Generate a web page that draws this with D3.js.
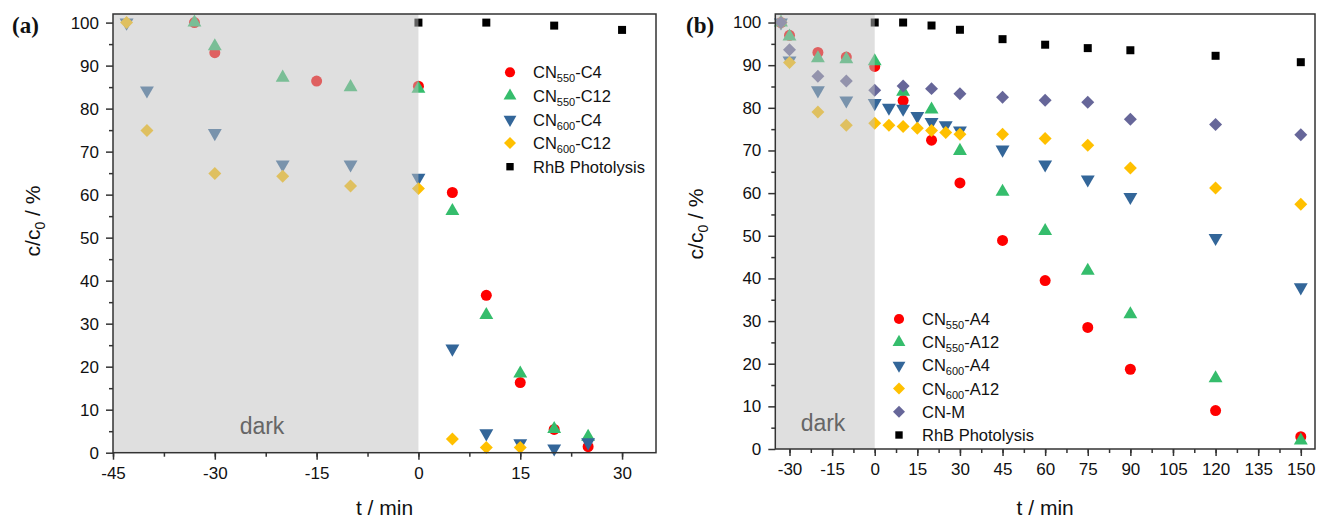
<!DOCTYPE html>
<html>
<head>
<meta charset="utf-8">
<script src="https://cdn.jsdelivr.net/npm/d3@7"></script>
<style>
  html, body { margin: 0; padding: 0; background: #fff; }
  svg { display: block; font-family: Arial, "Liberation Sans", sans-serif; }
</style>
</head>
<body>
<svg id="chart" width="1317" height="518"></svg>
<script>
// ---- Panel (a): dark adsorption then irradiation, C-series ----
const a_CN550_C4_t  = [-33, -30, -15, 0, 5, 10, 15, 20, 25];
const a_CN550_C4_v  = [100, 93.0, 86.4, 85.2, 60.5, 36.6, 16.3, 5.4, 1.4];
const a_CN550_C12_t = [-33, -30, -20, -10, 0, 5, 10, 15, 20, 25];
const a_CN550_C12_v = [100, 94.5, 87.2, 85.0, 84.6, 56.2, 32.0, 18.4, 5.5, 3.7];
const a_CN600_C4_t  = [-43, -40, -30, -20, -10, 0, 5, 10, 15, 20, 25];
const a_CN600_C4_v  = [100, 84.2, 74.3, 67.0, 67.0, 63.9, 24.2, 4.5, 2.2, 1.0, 2.4];
const a_CN600_C12_t = [-43, -40, -30, -20, -10, 0, 5, 10, 15];
const a_CN600_C12_v = [100, 74.9, 64.9, 64.3, 62.0, 61.4, 3.2, 1.2, 1.2];
const a_RhB_t       = [0, 10, 20, 30];
const a_RhB_v       = [100, 100, 99.3, 98.3];
const a_xTicks      = [-45, -30, -15, 0, 15, 30];

// ---- Panel (b): A-series and CN-M ----
const b_CN550_A4_t  = [-33, -30, -20, -10, 0, 10, 20, 30, 45, 60, 75, 90, 120, 150];
const b_CN550_A4_v  = [100, 97.0, 93.0, 91.9, 89.7, 81.7, 72.4, 62.4, 48.9, 39.5, 28.5, 18.7, 9.0, 2.9];
const b_CN550_A12_t = [-33, -30, -20, -10, 0, 10, 20, 30, 45, 60, 75, 90, 120, 150];
const b_CN550_A12_v = [100, 96.7, 91.6, 91.4, 90.9, 83.8, 79.6, 69.9, 60.3, 51.1, 41.8, 31.6, 16.6, 2.0];
const b_CN600_A4_t  = [-33, -30, -20, -10, 0, 5, 10, 15, 20, 25, 30, 45, 60, 75, 90, 120, 150];
const b_CN600_A4_v  = [100, 91.1, 84.1, 81.7, 81.1, 80.0, 79.8, 78.1, 76.7, 75.9, 74.7, 70.2, 66.7, 63.2, 59.1, 49.5, 37.9];
const b_CN600_A12_t = [-33, -30, -20, -10, 0, 5, 10, 15, 20, 25, 30, 45, 60, 75, 90, 120, 150];
const b_CN600_A12_v = [100, 90.6, 79.0, 75.9, 76.4, 75.9, 75.6, 75.2, 74.7, 74.2, 73.8, 73.8, 72.8, 71.2, 65.9, 61.2, 57.4];
const b_CNM_t       = [-33, -30, -20, -10, 0, 10, 20, 30, 45, 60, 75, 90, 120, 150];
const b_CNM_v       = [100, 93.6, 87.4, 86.3, 84.1, 85.1, 84.5, 83.3, 82.5, 81.8, 81.3, 77.3, 76.1, 73.7];
const b_RhB_t       = [0, 10, 20, 30, 45, 60, 75, 90, 120, 150];
const b_RhB_v       = [100, 100, 99.3, 98.3, 96.1, 94.8, 94.0, 93.5, 92.2, 90.7];
const b_xTicks      = [-30, -15, 0, 15, 30, 45, 60, 75, 90, 105, 120, 135, 150];

const yTicks = [0, 10, 20, 30, 40, 50, 60, 70, 80, 90, 100];

// marker styles
const RED = "#ff0000", GREEN = "#35bd6c", BLUE = "#336699", GOLD = "#ffc000", PURPLE = "#666699", BLACK = "#000000";

const zip = (t, v) => t.map((d, i) => ({ t: d, v: v[i] }));

const seriesA = [
  { pre: "CN", sub: "550", post: "-C4",  shape: "circle",  color: RED,   data: zip(a_CN550_C4_t, a_CN550_C4_v) },
  { pre: "CN", sub: "550", post: "-C12", shape: "up",      color: GREEN, data: zip(a_CN550_C12_t, a_CN550_C12_v) },
  { pre: "CN", sub: "600", post: "-C4",  shape: "down",    color: BLUE,  data: zip(a_CN600_C4_t, a_CN600_C4_v) },
  { pre: "CN", sub: "600", post: "-C12", shape: "diamond", color: GOLD,  data: zip(a_CN600_C12_t, a_CN600_C12_v) },
  { pre: "RhB Photolysis", sub: "", post: "", shape: "square", color: BLACK, data: zip(a_RhB_t, a_RhB_v) }
];
const seriesB = [
  { pre: "CN", sub: "550", post: "-A4",  shape: "circle",  color: RED,    data: zip(b_CN550_A4_t, b_CN550_A4_v) },
  { pre: "CN", sub: "550", post: "-A12", shape: "up",      color: GREEN,  data: zip(b_CN550_A12_t, b_CN550_A12_v) },
  { pre: "CN", sub: "600", post: "-A4",  shape: "down",    color: BLUE,   data: zip(b_CN600_A4_t, b_CN600_A4_v) },
  { pre: "CN", sub: "600", post: "-A12", shape: "diamond", color: GOLD,   data: zip(b_CN600_A12_t, b_CN600_A12_v) },
  { pre: "CN-M", sub: "", post: "", shape: "diamond", color: PURPLE, data: zip(b_CNM_t, b_CNM_v) },
  { pre: "RhB Photolysis", sub: "", post: "", shape: "square", color: BLACK, data: zip(b_RhB_t, b_RhB_v) }
];

const svg = d3.select("#chart");

function symbolPath(shape, k) {
  k = k || 1;
  switch (shape) {
    case "circle":  return { d: d3.symbol(d3.symbolCircle, 95 * k)(), rot: 0 };
    case "up":      return { d: d3.symbol(d3.symbolTriangle, 84 * k)(), rot: 0 };
    case "down":    return { d: d3.symbol(d3.symbolTriangle, 84 * k)(), rot: 180 };
    case "diamond": return { d: d3.symbol(d3.symbolSquare, 84 * k)(), rot: 45 };
    case "square":  return { d: d3.symbol(d3.symbolSquare, 64 * k)(), rot: 0 };
  }
}

function drawPanel(cfg) {
  const g = svg.append("g");
  const x = d3.scaleLinear().domain(cfg.xDomain).range([cfg.left, cfg.right]);
  const y = d3.scaleLinear().domain([0, 102]).range([cfg.bottom, cfg.top]);

  // scatter markers
  cfg.series.forEach(s => {
    const sym = symbolPath(s.shape);
    g.append("g").selectAll("path").data(s.data).join("path")
      .attr("d", sym.d)
      .attr("fill", s.color)
      .attr("transform", d => `translate(${x(d.t)},${y(d.v)}) rotate(${sym.rot})`);
  });

  // dark (adsorption) period, translucent overlay on top of the markers
  g.append("rect")
    .attr("x", x(cfg.xDomain[0])).attr("y", cfg.top)
    .attr("width", x(0) - x(cfg.xDomain[0])).attr("height", cfg.bottom - cfg.top)
    .attr("fill", "rgb(192,192,192)").attr("fill-opacity", 0.5);

  g.append("text")
    .attr("x", cfg.darkX).attr("y", cfg.darkY)
    .attr("text-anchor", "middle").attr("font-size", 23).attr("fill", "#666")
    .text("dark");

  // frame
  g.append("rect")
    .attr("x", cfg.left).attr("y", cfg.top)
    .attr("width", cfg.right - cfg.left).attr("height", cfg.bottom - cfg.top)
    .attr("fill", "none").attr("stroke", "#333").attr("stroke-width", 1.5);

  // x axis
  const xMinor = d3.range(cfg.xDomain[0], cfg.xDomain[1] + 0.01, 7.5)
    .map(v => cfg.xTicks[0] + Math.round((v - cfg.xTicks[0]) / 7.5) * 7.5)
    .filter(v => v >= cfg.xDomain[0] && v <= cfg.xDomain[1]);
  const xAxisMinor = d3.axisBottom(x).tickValues(Array.from(new Set(xMinor))).tickSize(4).tickFormat("");
  const xAxis = d3.axisBottom(x).tickValues(cfg.xTicks).tickSize(7).tickPadding(7).tickFormat(d3.format("d"));
  const gxm = g.append("g").attr("transform", `translate(0,${cfg.bottom})`).call(xAxisMinor);
  const gx = g.append("g").attr("transform", `translate(0,${cfg.bottom})`).call(xAxis);
  [gx, gxm].forEach(a => {
    a.select(".domain").remove();
    a.selectAll("line").attr("stroke", "#333").attr("stroke-width", 1.5);
  });
  gx.selectAll("text").attr("font-size", 17).attr("fill", "#111")
    .attr("font-family", "Arial, 'Liberation Sans', sans-serif")
    .text(d => d < 0 ? "-" + Math.abs(d) : d);

  // y axis
  const yAxisMinor = d3.axisLeft(y).tickValues(d3.range(5, 101, 10)).tickSize(4).tickFormat("");
  const yAxis = d3.axisLeft(y).tickValues(yTicks).tickSize(7).tickPadding(7);
  const gym = g.append("g").attr("transform", `translate(${cfg.left},0)`).call(yAxisMinor);
  const gy = g.append("g").attr("transform", `translate(${cfg.left},0)`).call(yAxis);
  [gy, gym].forEach(a => {
    a.select(".domain").remove();
    a.selectAll("line").attr("stroke", "#333").attr("stroke-width", 1.5);
  });
  gy.selectAll("text").attr("font-size", 17).attr("fill", "#111")
    .attr("font-family", "Arial, 'Liberation Sans', sans-serif");

  // axis titles
  g.append("text")
    .attr("x", (cfg.left + cfg.right) / 2).attr("y", 515)
    .attr("text-anchor", "middle").attr("font-size", 21).attr("fill", "#111")
    .text("t / min");

  const yt = g.append("text")
    .attr("transform", `translate(${cfg.yTitleX},${cfg.yTitleY}) rotate(-90)`)
    .attr("text-anchor", "middle").attr("font-size", 21).attr("fill", "#111");
  yt.append("tspan").text("c/c");
  yt.append("tspan").attr("font-size", 14).attr("dy", 5).text("0");
  yt.append("tspan").attr("dy", -5).text(" / %");

  // panel letter
  g.append("text")
    .attr("x", cfg.letterX).attr("y", 33)
    .attr("font-family", "'Liberation Serif', 'Times New Roman', serif")
    .attr("font-weight", "bold").attr("font-size", 23).attr("fill", "#111")
    .text(cfg.letter);

  // legend
  const lg = g.append("g");
  cfg.series.forEach((s, i) => {
    const ly = cfg.legY + i * cfg.legStep;
    const sym = symbolPath(s.shape, 0.85);
    lg.append("path").attr("d", sym.d).attr("fill", s.color)
      .attr("transform", `translate(${cfg.legX},${ly}) rotate(${sym.rot})`);
    const t = lg.append("text").attr("x", cfg.legX + 23).attr("y", ly + 6)
      .attr("font-size", 16.5).attr("fill", "#111");
    t.append("tspan").text(s.pre);
    if (s.sub) {
      t.append("tspan").attr("font-size", 11).attr("dy", 4).text(s.sub);
      t.append("tspan").attr("dy", -4).text(s.post);
    }
  });
}

drawPanel({
  series: seriesA, xDomain: [-45, 35], xTicks: a_xTicks,
  left: 113, right: 656, top: 14, bottom: 452.7,
  darkX: 262, darkY: 434, yTitleX: 40, yTitleY: 221,
  letter: "(a)", letterX: 12,
  legX: 510, legY: 72.3, legStep: 23.6
});

drawPanel({
  series: seriesB, xDomain: [-35, 155], xTicks: b_xTicks,
  left: 775.3, right: 1315, top: 14, bottom: 449,
  darkX: 823, darkY: 431, yTitleX: 703, yTitleY: 224,
  letter: "(b)", letterX: 686,
  legX: 899, legY: 319, legStep: 23.2
});
</script>
</body>
</html>
